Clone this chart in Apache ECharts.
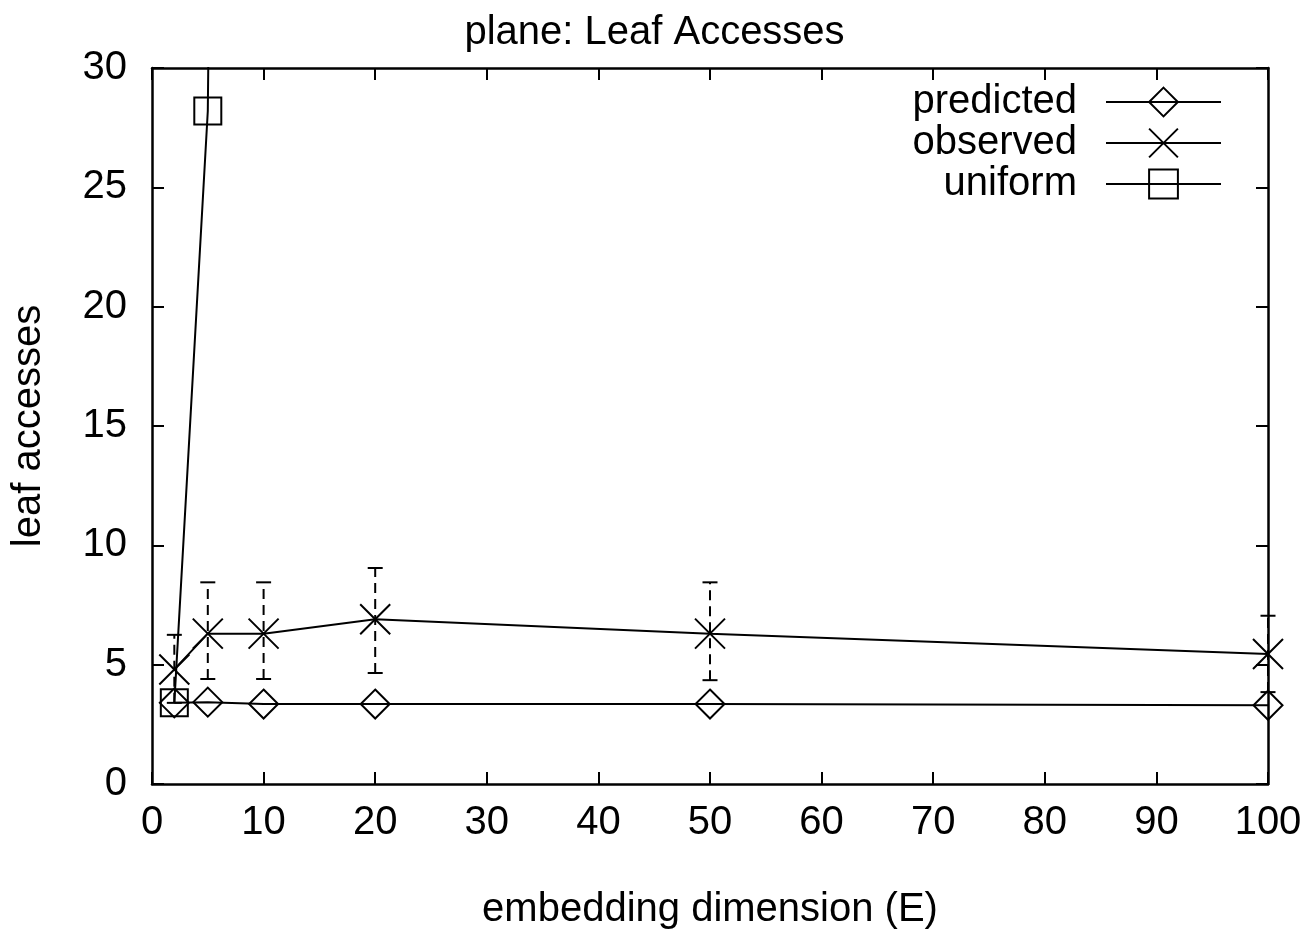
<!DOCTYPE html>
<html>
<head>
<meta charset="utf-8">
<title>plane: Leaf Accesses</title>
<script src="https://cdn.jsdelivr.net/npm/echarts@6/dist/echarts.min.js"></script>
<style>
  html, body { margin: 0; padding: 0; background: #fff; }
  #chart { width: 1309px; height: 929px; }
</style>
</head>
<body>
<div id="chart"></div>
<script>
// Embedding dimensions (E) at which each configuration was measured
const dims = [2, 5, 10, 20, 50, 100];
// Leaf accesses predicted by the model
const predicted = [3.4, 3.43, 3.35, 3.35, 3.35, 3.3];
// Observed mean leaf accesses and their error ranges
const observed = [4.8, 6.3, 6.3, 6.9, 6.3, 5.45];
const observedLow = [3.4, 4.4, 4.4, 4.65, 4.35, 3.85];
const observedHigh = [6.25, 8.45, 8.45, 9.05, 8.45, 7.05];
// Uniform-data estimate (grows far beyond the plotted range)
const uniformDims = [2, 5, 10];
const uniform = [3.4, 28.2, 250];
// Axis ticks
const xTicks = [0, 10, 20, 30, 40, 50, 60, 70, 80, 90, 100];
const yTicks = [0, 5, 10, 15, 20, 25, 30];

const FONT = '"Liberation Sans", Arial, Helvetica, sans-serif';
const INK = '#000';

const pairs = (xs, ys) => xs.map((x, i) => [x, ys[i]]);

const diamond = 'path://M0,-1L1,0L0,1L-1,0Z';
const cross = 'path://M-1,-1L1,1M1,-1L-1,1';
const square = 'path://M-1,-1L1,-1L1,1L-1,1Z';

const markStyle = { color: 'rgba(0,0,0,0)', borderColor: INK, borderWidth: 2 };

const chart = echarts.init(document.getElementById('chart'), null, { renderer: 'canvas' });

const baseAxis = {
  axisLine: { show: true, onZero: false, lineStyle: { color: INK, width: 2.5 } },
  axisTick: { show: true, inside: true, length: 12, lineStyle: { color: INK, width: 2 } },
  splitLine: { show: false }
};

chart.setOption({
  animation: false,
  backgroundColor: '#fff',
  textStyle: { fontFamily: FONT, color: INK },
  title: {
    text: 'plane: Leaf Accesses',
    left: 'center',
    top: 8,
    textStyle: { fontFamily: FONT, fontSize: 40, fontWeight: 'normal', color: INK }
  },
  legend: {
    right: 82,
    top: 77,
    orient: 'vertical',
    align: 'right',
    itemWidth: 115,
    itemHeight: 36,
    itemGap: 1,
    data: ['predicted', 'observed', 'uniform'],
    textStyle: { fontFamily: FONT, fontSize: 40, color: INK, lineHeight: 40, padding: [0, 24, 0, 0] }
  },
  grid: { left: 152, top: 68, width: 1116, height: 716, containLabel: false, outerBoundsMode: 'none' },
  xAxis: [
    Object.assign({}, baseAxis, {
      type: 'value', min: 0, max: 100, interval: 10, position: 'bottom',
      name: 'embedding dimension (E)', nameLocation: 'middle', nameGap: 106,
      nameTextStyle: { fontFamily: FONT, fontSize: 40, color: INK },
      axisLabel: { show: true, margin: 19, fontFamily: FONT, fontSize: 40, color: INK,
        formatter: v => xTicks.includes(v) ? String(v) : '' }
    }),
    Object.assign({}, baseAxis, {
      type: 'value', min: 0, max: 100, interval: 10, position: 'top',
      axisLabel: { show: false }
    })
  ],
  yAxis: [
    Object.assign({}, baseAxis, {
      type: 'value', min: 0, max: 30, interval: 5, position: 'left',
      name: 'leaf accesses', nameLocation: 'middle', nameGap: 103,
      nameTextStyle: { fontFamily: FONT, fontSize: 40, color: INK },
      axisLabel: { show: true, margin: 25, fontFamily: FONT, fontSize: 40, color: INK,
        formatter: v => yTicks.includes(v) ? String(v) : '' }
    }),
    Object.assign({}, baseAxis, {
      type: 'value', min: 0, max: 30, interval: 5, position: 'right',
      axisLabel: { show: false }
    })
  ],
  series: [
    {
      name: 'predicted',
      type: 'line',
      data: pairs(dims, predicted),
      symbol: diamond,
      symbolSize: 29,
      showAllSymbol: true,
      lineStyle: { color: INK, width: 2 },
      itemStyle: markStyle,
      clip: true,
      z: 3
    },
    {
      name: 'observed',
      type: 'line',
      data: pairs(dims, observed),
      symbol: cross,
      symbolSize: 30,
      showAllSymbol: true,
      lineStyle: { color: INK, width: 2 },
      itemStyle: markStyle,
      clip: true,
      z: 3
    },
    {
      name: 'observed-range',
      type: 'custom',
      data: dims.map((d, i) => [d, observedLow[i], observedHigh[i]]),
      clip: false,
      silent: true,
      z: 2,
      renderItem: function (params, api) {
        const lo = api.coord([api.value(0), api.value(1)]);
        const hi = api.coord([api.value(0), api.value(2)]);
        const half = 7.5;
        const st = { stroke: INK, lineWidth: 2 };
        return {
          type: 'group',
          children: [
            { type: 'line', shape: { x1: lo[0], y1: lo[1], x2: hi[0], y2: hi[1] },
              style: Object.assign({ lineDash: [10, 6] }, st) },
            { type: 'line', shape: { x1: hi[0] - half, y1: hi[1], x2: hi[0] + half, y2: hi[1] }, style: st },
            { type: 'line', shape: { x1: lo[0] - half, y1: lo[1], x2: lo[0] + half, y2: lo[1] }, style: st }
          ]
        };
      }
    },
    {
      name: 'uniform',
      type: 'line',
      data: pairs(uniformDims, uniform),
      symbol: square,
      symbolSize: 27,
      showAllSymbol: true,
      lineStyle: { color: INK, width: 2 },
      itemStyle: markStyle,
      clip: true,
      z: 3
    }
  ]
});
</script>
</body>
</html>
